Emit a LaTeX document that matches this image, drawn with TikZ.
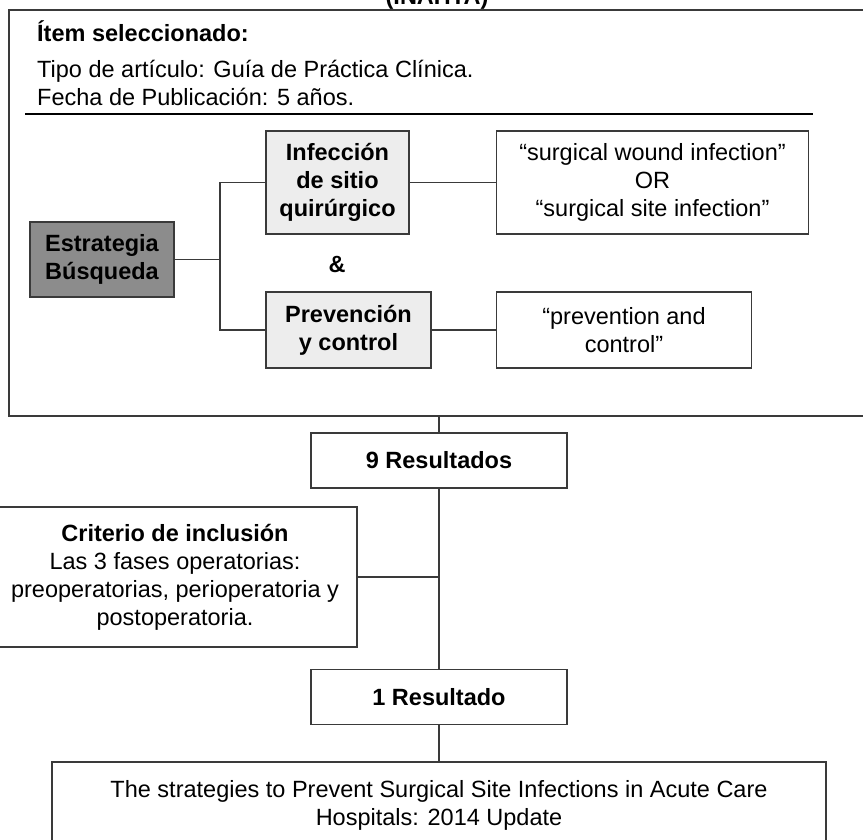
\documentclass[tikz,border=0pt]{standalone}
\usepackage{fontspec}
\setmainfont{Liberation Sans}
\usepackage{xcolor}
\usetikzlibrary{positioning}

\definecolor{linegray}{HTML}{3A3A3A}
\definecolor{boxgray}{HTML}{EDEDED}
\definecolor{stratgray}{HTML}{8C8C8C}

\begin{document}
\begin{tikzpicture}[x=1pt, y=-1pt, auto,
    every node/.style={font=\fontsize{23.5}{28}\selectfont},
    txt/.style={anchor=base west, inner sep=0pt},
    box/.style={draw=linegray, line width=1.5pt, align=center, inner sep=0pt},
    termbox/.style={box, fill=boxgray, font=\fontsize{23.5}{28}\selectfont\bfseries},
    line/.style={draw=linegray, line width=1.5pt}]
    \clip (0,0) rectangle (863,839);

    % search frame
    \node [anchor=base] (db) at (437,4) {\bfseries (INAHTA)};
    \node [box, minimum width=871pt, minimum height=406pt] (frame) at (444.5,213) {};
    \node [txt] (item) at (37,41) {\bfseries Ítem seleccionado:};
    \node [txt] (tipo) at (37,77) {Tipo de artículo: Guía de Práctica Clínica.};
    \node [txt] (fecha) at (37,105) {Fecha de Publicación: 5 años.};
    \draw [line width=2.5pt] (25,114) -- (813,114);

    \node [termbox, fill=stratgray, minimum width=144pt, minimum height=75pt] (est) at (102,259.5) {Estrategia\\Búsqueda};
    \node [termbox, minimum width=143pt, minimum height=103pt] (inf) at (337.5,182.5) {Infección\\de sitio\\quirúrgico};
    \node [box, right=86pt of inf, minimum width=312pt, minimum height=103pt] (q1) {“surgical wound infection”\\OR\\“surgical site infection”};
    \node [font=\fontsize{23.5}{28}\selectfont\bfseries] (and) at (337,264) {\&};
    \node [termbox, minimum width=165pt, minimum height=76pt] (prev) at (348.5,330) {Prevención\\y control};
    \node [box, right=64pt of prev, minimum width=255pt, minimum height=76pt] (q2) {“prevention and\\control”};

    \coordinate (fork) at (220,259.5);
    \draw [line] (est.east) -- (fork);
    \draw [line] (inf.west) -| (fork) |- (prev.west);
    \draw [line] (inf) -- (q1);
    \draw [line] (prev) -- (q2);

    % results
    \node [box, minimum width=256pt, minimum height=55pt, font=\fontsize{23.5}{28}\selectfont\bfseries] (res9) at (439,460.5) {9 Resultados};
    \node [box, minimum width=364pt, minimum height=140pt] (crit) at (175,577) {{\bfseries Criterio de inclusión}\\Las 3 fases operatorias:\\preoperatorias, perioperatoria y\\postoperatoria.};
    \node [box, below=180pt of res9, minimum width=256pt, minimum height=55pt, font=\fontsize{23.5}{28}\selectfont\bfseries] (res1) {1 Resultado};
    \node [box, below=36pt of res1, minimum width=774pt, minimum height=86pt] (final) {The strategies to Prevent Surgical Site Infections in Acute Care\\Hospitals: 2014 Update};

    \draw [line] (frame.south -| res9.north) -- (res9.north);
    \draw [line] (res9) -- (res1);
    \draw [line] (crit) -- (crit -| res9);
    \draw [line] (res1) -- (final);
\end{tikzpicture}
\end{document}
